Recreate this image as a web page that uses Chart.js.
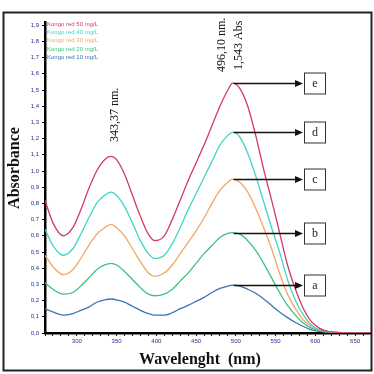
<!DOCTYPE html>
<html>
<head>
<meta charset="utf-8">
<script src="https://cdn.jsdelivr.net/npm/chart.js@4.4.0/dist/chart.umd.min.js"></script>
<style>
  html, body { margin: 0; padding: 0; background: #fff; }
  #wrap { width: 374px; height: 374px; position: relative; }
</style>
</head>
<body>
<div id="wrap"><canvas id="spectra"></canvas></div>
<script>
// Длины волн (нм), на которых сняты точки
const wavelengths = [260, 270, 283, 295, 305, 315, 325, 335, 343, 350, 360, 370, 380, 390, 398,
  410, 420, 430, 440, 450, 460, 470, 480, 490, 496, 505, 515, 525, 535, 545, 555, 565, 575, 585,
  595, 605, 615, 625, 640, 670];

// Поглощение для каждой концентрации
const abs50 = [0.82, 0.68, 0.60, 0.65, 0.76, 0.89, 1.00, 1.07, 1.09, 1.07, 0.98, 0.85, 0.72, 0.61, 0.57,
  0.60, 0.70, 0.82, 0.94, 1.05, 1.16, 1.28, 1.40, 1.50, 1.543, 1.51, 1.40, 1.22, 1.01, 0.82, 0.62, 0.42,
  0.27, 0.15, 0.07, 0.03, 0.01, 0.005, 0, 0];
const abs40 = [0.64, 0.54, 0.48, 0.52, 0.61, 0.71, 0.80, 0.85, 0.87, 0.85, 0.78, 0.68, 0.57, 0.49, 0.46,
  0.48, 0.55, 0.65, 0.76, 0.86, 0.96, 1.06, 1.16, 1.22, 1.24, 1.21, 1.11, 0.97, 0.81, 0.65, 0.50, 0.33,
  0.20, 0.11, 0.05, 0.02, 0.01, 0.005, 0, 0];
const abs30 = [0.48, 0.41, 0.36, 0.39, 0.46, 0.54, 0.61, 0.65, 0.67, 0.65, 0.60, 0.52, 0.44, 0.37, 0.35,
  0.37, 0.42, 0.49, 0.56, 0.63, 0.71, 0.80, 0.88, 0.93, 0.95, 0.93, 0.87, 0.77, 0.65, 0.52, 0.37, 0.24,
  0.15, 0.08, 0.04, 0.02, 0.01, 0, 0, 0];
const abs20 = [0.31, 0.27, 0.24, 0.25, 0.29, 0.34, 0.39, 0.42, 0.43, 0.42, 0.38, 0.33, 0.28, 0.24, 0.23,
  0.24, 0.27, 0.32, 0.37, 0.43, 0.49, 0.54, 0.59, 0.615, 0.62, 0.61, 0.57, 0.51, 0.43, 0.34, 0.25, 0.17,
  0.11, 0.06, 0.03, 0.015, 0.005, 0, 0, 0];
const abs10 = [0.15, 0.13, 0.11, 0.12, 0.14, 0.16, 0.19, 0.205, 0.21, 0.205, 0.19, 0.165, 0.14, 0.12, 0.11,
  0.11, 0.125, 0.15, 0.17, 0.195, 0.22, 0.25, 0.275, 0.29, 0.295, 0.29, 0.27, 0.245, 0.21, 0.17, 0.13,
  0.095, 0.065, 0.04, 0.02, 0.01, 0.005, 0, 0, 0];

const seriesNames = ['Kongo red 50 mg/L', 'Kongo red 40 mg/L', 'Kongo red 30 mg/L', 'Kongo red 20 mg/L', 'Kongo red 10 mg/L'];
const seriesLetters = ['e', 'd', 'c', 'b', 'a'];
const seriesValues = [abs50, abs40, abs30, abs20, abs10];
const seriesColors = ['#d2386a', '#3fd6c6', '#f0a862', '#3cc27e', '#3a74b4'];

const peak1Label = '343,37 nm.';
const peak2Label = ['496,10 nm.', '1,543 Abs'];
const peak1Nm = 343.37;
const peak2Nm = 496.1;

const xTitle = 'Wavelenght  (nm)';
const yTitle = 'Absorbance';

// Рамка, легенда, подписи и стрелки поверх графика
const decorPlugin = {
  id: 'decor',
  afterDraw(chart) {
    const { ctx, scales: { x, y } } = chart;
    ctx.save();

    // внешняя рамка
    ctx.strokeStyle = '#222';
    ctx.lineWidth = 2;
    ctx.strokeRect(3.5, 12.5, 368, 358);

    // легенда цветным текстом
    ctx.font = '6px "Liberation Sans", Arial, sans-serif';
    ctx.textAlign = 'left';
    ctx.textBaseline = 'middle';
    seriesNames.forEach((name, i) => {
      ctx.fillStyle = seriesColors[i];
      ctx.fillText(name, 47, 24 + i * 8.3);
    });

    // подписи осей
    ctx.fillStyle = '#111';
    ctx.font = 'bold 16px "Liberation Serif", "Times New Roman", serif';
    ctx.textAlign = 'center';
    ctx.textBaseline = 'middle';
    ctx.fillText(xTitle, 200, 360);
    ctx.save();
    ctx.translate(15, 168);
    ctx.rotate(-Math.PI / 2);
    ctx.fillText(yTitle, 0, 0);
    ctx.restore();

    // вертикальные подписи пиков
    ctx.font = '12px "Liberation Serif", "Times New Roman", serif';
    ctx.textAlign = 'left';
    const vText = (txt, px, py) => {
      ctx.save();
      ctx.translate(px, py);
      ctx.rotate(-Math.PI / 2);
      ctx.fillText(txt, 0, 0);
      ctx.restore();
    };
    vText(peak1Label, x.getPixelForValue(peak1Nm) + 4, 142);
    vText(peak2Label[0], x.getPixelForValue(peak2Nm) - 11, 72);
    vText(peak2Label[1], x.getPixelForValue(peak2Nm) + 6, 70);

    // стрелки от максимумов к рамкам с буквами
    const boxLeft = 304, boxSize = 21;
    seriesValues.forEach((vals, i) => {
      const peak = Math.max(...vals);
      const py = Math.round(y.getPixelForValue(peak)) + 0.5;
      const px = x.getPixelForValue(wavelengths[vals.indexOf(peak)]) + 1;
      ctx.strokeStyle = '#111';
      ctx.fillStyle = '#111';
      ctx.lineWidth = 1.3;
      ctx.beginPath();
      ctx.moveTo(px, py);
      ctx.lineTo(boxLeft - 7, py);
      ctx.stroke();
      ctx.beginPath();
      ctx.moveTo(boxLeft - 1, py);
      ctx.lineTo(boxLeft - 9, py - 3.5);
      ctx.lineTo(boxLeft - 9, py + 3.5);
      ctx.closePath();
      ctx.fill();
      ctx.lineWidth = 1;
      ctx.strokeStyle = '#333';
      ctx.fillStyle = '#fff';
      ctx.fillRect(boxLeft, py - boxSize / 2, boxSize, boxSize);
      ctx.strokeRect(boxLeft + 0.5, py - boxSize / 2, boxSize, boxSize);
      ctx.fillStyle = '#222';
      ctx.font = '12px "Liberation Serif", "Times New Roman", serif';
      ctx.textAlign = 'center';
      ctx.textBaseline = 'middle';
      ctx.fillText(seriesLetters[i], boxLeft + boxSize / 2 + 0.5, py);
    });

    ctx.restore();
  }
};

const tickFont = { family: '"Liberation Sans", Arial, sans-serif', size: 6 };

const config = {
  type: 'line',
  data: {
    datasets: seriesValues.map((vals, i) => ({
      label: seriesNames[i],
      data: wavelengths.map((w, k) => ({ x: w, y: vals[k] })),
      borderColor: seriesColors[i],
      borderWidth: 1.3,
      pointRadius: 0,
      fill: false,
      cubicInterpolationMode: 'monotone'
    }))
  },
  options: {
    responsive: true,
    maintainAspectRatio: false,
    animation: false,
    layout: { padding: { top: 22, right: 3, bottom: 0, left: 0 } },
    plugins: {
      legend: { display: false },
      tooltip: { enabled: false }
    },
    scales: {
      x: {
        type: 'linear',
        min: 260,
        max: 670,
        afterFit: (scale) => { scale.height = 41; },
        border: { color: '#000', width: 2.5 },
        grid: { drawOnChartArea: false, drawTicks: true, tickLength: 3, color: '#000' },
        ticks: {
          stepSize: 10,
          autoSkip: false,
          maxRotation: 0,
          padding: 2,
          color: '#22308a',
          font: tickFont,
          callback: (v) => (v % 50 === 0 ? String(v) : '')
        }
      },
      y: {
        min: 0,
        max: 1.92,
        afterFit: (scale) => { scale.width = 45; },
        border: { color: '#000', width: 2.5 },
        grid: { drawOnChartArea: false, drawTicks: true, tickLength: 3, color: '#000' },
        ticks: {
          stepSize: 0.1,
          includeBounds: false,
          autoSkip: false,
          padding: 3,
          color: '#22308a',
          font: tickFont,
          callback: (v) => v.toFixed(1).replace('.', ',')
        }
      }
    }
  },
  plugins: [decorPlugin]
};

new Chart(document.getElementById('spectra').getContext('2d'), config);
</script>
</body>
</html>
